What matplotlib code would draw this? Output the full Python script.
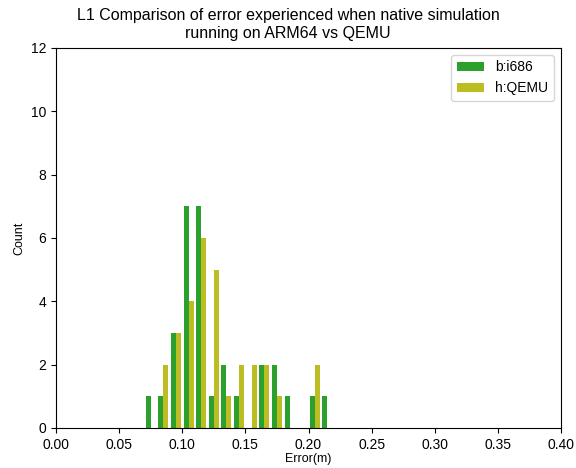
import numpy as np
import matplotlib
matplotlib.use('Agg')
import matplotlib.pyplot as plt

plt.rcParams['font.family'] = ['Liberation Sans', 'DejaVu Sans']

# bin left edges (m) and counts per bin
bin_lefts = [0.07, 0.08, 0.09, 0.10, 0.11, 0.12, 0.13, 0.14, 0.15, 0.16, 0.17, 0.18, 0.19, 0.20, 0.21]
i686_counts = [1, 1, 3, 7, 7, 1, 2, 1, 0, 2, 2, 1, 0, 1, 1]
qemu_counts = [0, 2, 3, 4, 6, 5, 1, 2, 2, 2, 1, 0, 0, 2, 0]
labels = ['b:i686', 'h:QEMU']

bins = np.linspace(0, 0.4, 41)
centers = np.array(bin_lefts) + 0.005

fig = plt.figure(figsize=(5.76, 4.68), dpi=100)
ax = fig.add_axes([0.0972, 0.0855, 0.8768, 0.812])

ax.hist([centers, centers], bins=bins, weights=[i686_counts, qemu_counts],
        color=['#2ca02c', '#bcbd22'], label=labels)

ax.set_xlim(0, 0.4)
ax.set_ylim(0, 12)
ax.set_xticks(np.arange(0, 0.41, 0.05))
ax.set_xticklabels(['%.2f' % v for v in np.arange(0, 0.41, 0.05)])
ax.set_yticks(range(0, 13, 2))
ax.tick_params(labelsize=10)
ax.set_xlabel('Error(m)', fontsize=9, labelpad=1)
ax.set_ylabel('Count', fontsize=9)
# title is centred on the figure, not the axes
fig.suptitle('L1 Comparison of error experienced when native simulation\nrunning on ARM64 vs QEMU',
             x=0.5, y=0.982, fontsize=11.5, va='top')
ax.legend(loc='upper right', fontsize=10)

fig.savefig('out.png', dpi=100)
